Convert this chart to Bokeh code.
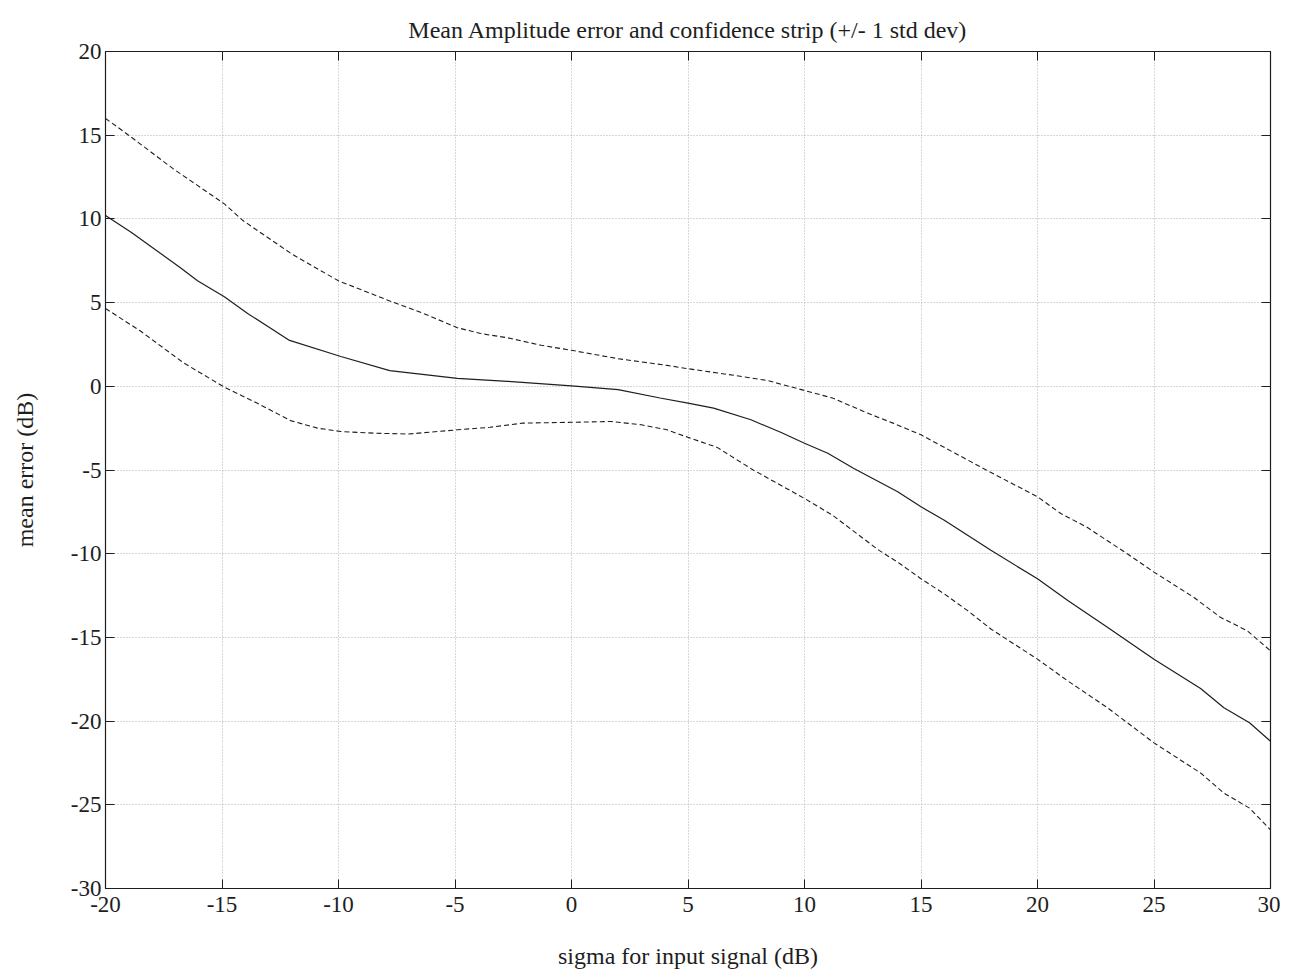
from bokeh.plotting import figure
from bokeh.models import LinearAxis, FixedTicker, Range1d
from bokeh.embed import file_html
from bokeh.resources import INLINE

# mean error curve
mean_x = [-20, -18.9, -16.8, -16.05, -14.9, -13.9, -12.1, -9.9, -7.8, -4.9, -2.75, 0,
          2.0, 3.8, 5.0, 6.1, 7.7, 9.0, 10.0, 11.0, 12.1, 14.0, 15.0, 16.0, 18.0,
          20.0, 21.3, 23.0, 25.0, 27.0, 28.0, 29.1, 30]
mean_y = [10.2, 9.2, 7.1, 6.3, 5.35, 4.35, 2.74, 1.78, 0.94, 0.47, 0.3, 0.02,
          -0.2, -0.7, -1.0, -1.3, -2.0, -2.76, -3.4, -4.0, -4.9, -6.3, -7.2, -8.0, -9.8,
          -11.5, -12.8, -14.4, -16.3, -18.05, -19.2, -20.1, -21.2]

# upper (+1 std) curve
upper_x = [-20, -19.2, -17.1, -14.9, -14.1, -12.0, -10.0, -7.8, -6.35, -4.9, -3.9, -2.75,
           -1.3, 0, 2.0, 4.1, 5.0, 7.0, 8.4, 10.0, 11.2, 12.7, 13.8, 15.0, 16.4, 17.8,
           20.0, 21.0, 22.1, 23.85, 25.0, 26.7, 27.85, 29.0, 30]
upper_y = [16.0, 15.2, 13.0, 10.9, 9.9, 7.9, 6.3, 5.1, 4.35, 3.5, 3.15, 2.9,
           2.45, 2.15, 1.65, 1.25, 1.05, 0.65, 0.35, -0.25, -0.7, -1.6, -2.2, -2.9, -3.95, -5.0,
           -6.6, -7.6, -8.4, -10.0, -11.1, -12.6, -13.8, -14.6, -15.8]

# lower (-1 std) curve
lower_x = [-20, -18.5, -16.65, -14.9, -13.5, -12.06, -10.9, -9.9, -8.5, -7.0, -4.9, -3.5,
           -2.1, 0, 1.7, 3.0, 4.1, 5.0, 6.25, 7.8, 10.0, 11.2, 13.2, 14.1, 15.0, 16.0, 17.0,
           18.0, 20.0, 21.3, 23.0, 25.0, 27.0, 28.0, 29.1, 30]
lower_y = [4.65, 3.3, 1.4, -0.05, -1.0, -2.05, -2.5, -2.7, -2.8, -2.85, -2.6, -2.45,
           -2.2, -2.15, -2.1, -2.3, -2.6, -3.05, -3.65, -5.0, -6.7, -7.7, -9.8, -10.6, -11.5, -12.4, -13.4,
           -14.5, -16.3, -17.6, -19.2, -21.3, -23.1, -24.3, -25.2, -26.5]

x_ticks = [-20, -15, -10, -5, 0, 5, 10, 15, 20, 25, 30]
y_ticks = [-30, -25, -20, -15, -10, -5, 0, 5, 10, 15, 20]
x_tick_labels = {t: str(t) for t in x_ticks}
y_tick_labels = {t: str(t) for t in y_ticks}

FONT = "Liberation Serif"
INK = "#1e1e1e"

p = figure(width=1280, height=975, output_backend="svg", toolbar_location=None,
           x_range=Range1d(-20, 30), y_range=Range1d(-30, 20),
           title="Mean Amplitude error and confidence strip (+/- 1 std dev)",
           min_border_left=105, min_border_right=10, min_border_top=51, min_border_bottom=87)

p.title.align = "center"
p.title.text_font = FONT
p.title.text_font_size = "24px"
p.title.text_font_style = "normal"
p.title.text_color = INK
p.title.standoff = 18

p.outline_line_color = INK
p.outline_line_width = 1.2

for ax in (p.xaxis[0], p.yaxis[0]):
    ax.major_label_text_font = FONT
    ax.major_label_text_font_size = "23px"
    ax.major_label_text_color = INK
    ax.axis_label_text_font = FONT
    ax.axis_label_text_font_size = "24px"
    ax.axis_label_text_font_style = "normal"
    ax.axis_label_text_color = INK
    ax.major_tick_in = 9
    ax.major_tick_out = 0
    ax.minor_tick_in = 0
    ax.minor_tick_out = 0
    ax.axis_line_color = INK
    ax.major_tick_line_color = INK

p.xaxis[0].ticker = FixedTicker(ticks=x_ticks)
p.yaxis[0].ticker = FixedTicker(ticks=y_ticks)
p.xaxis[0].major_label_overrides = x_tick_labels
p.yaxis[0].major_label_overrides = y_tick_labels
p.xaxis[0].axis_label = "sigma for input signal (dB)"
p.yaxis[0].axis_label = "mean error (dB)"
p.xaxis[0].axis_label_standoff = 28
p.yaxis[0].axis_label_standoff = 30
p.xaxis[0].major_label_standoff = 8
p.yaxis[0].major_label_standoff = 4

top_ax = LinearAxis(ticker=FixedTicker(ticks=x_ticks), major_label_text_color=None,
                    major_tick_in=9, major_tick_out=0, minor_tick_in=0, minor_tick_out=0,
                    axis_line_color=INK, major_tick_line_color=INK, major_label_standoff=0)
right_ax = LinearAxis(ticker=FixedTicker(ticks=y_ticks), major_label_text_color=None,
                      major_tick_in=9, major_tick_out=0, minor_tick_in=0, minor_tick_out=0,
                      axis_line_color=INK, major_tick_line_color=INK, major_label_standoff=0)
p.add_layout(top_ax, "above")
p.add_layout(right_ax, "right")

p.xgrid.ticker = FixedTicker(ticks=x_ticks)
p.ygrid.ticker = FixedTicker(ticks=y_ticks)
for g in (p.xgrid[0], p.ygrid[0]):
    g.grid_line_color = "#b0b0b0"
    g.grid_line_dash = "1 2"
    g.grid_line_width = 1

p.line(mean_x, mean_y, line_color=INK, line_width=1.2)
p.line(upper_x, upper_y, line_color=INK, line_width=1.1, line_dash="5 3")
p.line(lower_x, lower_y, line_color=INK, line_width=1.1, line_dash="5 3")

open("out.html", "w").write(file_html(p, INLINE))
